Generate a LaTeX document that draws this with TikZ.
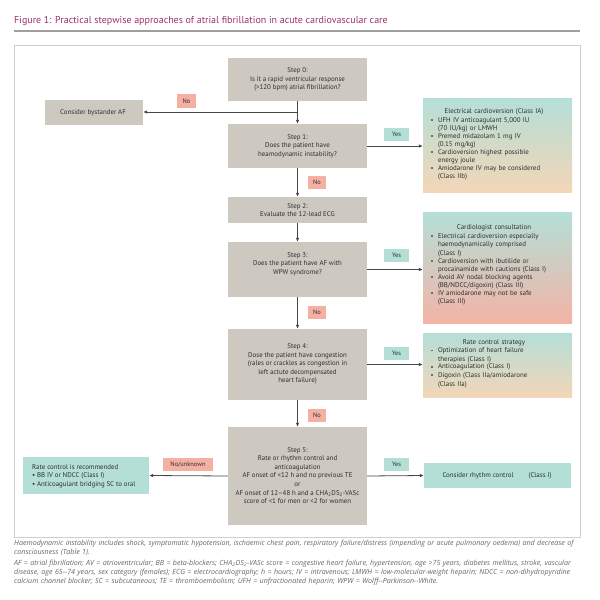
\documentclass[tikz,border=0pt]{standalone}
\usepackage{fontspec}
\setmainfont{PT Sans}
\newfontfamily\notefont{Open Sans}
\usetikzlibrary{arrows.meta}

\definecolor{stepgray}{HTML}{CDC9C1}
\definecolor{tealbox}{HTML}{B4DFD7}
\definecolor{peach}{HTML}{F3D6B8}
\definecolor{salmon}{HTML}{F2B4A6}
\definecolor{nored}{HTML}{F5AFA3}
\definecolor{titlecol}{HTML}{9C3072}
\definecolor{textcol}{HTML}{2E2E2E}
\definecolor{linecol}{HTML}{474747}
\definecolor{framecol}{HTML}{CFCFCF}
\definecolor{notecol}{HTML}{666666}

\newcommand{\sqbul}{\textcolor{textcol!70}{\rule[1.4pt]{1.7pt}{1.7pt}}}
\newcommand{\bitem}[1]{\par\noindent\makebox[7pt][l]{\sqbul}\parbox[t]{119pt}{\raggedright #1}}

\tikzset{
  stepbox/.style={shape=rectangle, fill=stepgray, draw=none, inner sep=0pt},
  boxtext/.style={align=center, text=textcol, inner sep=0pt, font=\fontsize{6.9}{8.6}\selectfont},
  listtext/.style={align=left, text=textcol, inner sep=0pt, text width=126pt, font=\fontsize{6.9}{8.6}\selectfont},
  yeslabel/.style={shape=rectangle, fill=tealbox, text=textcol, inner sep=0pt, font=\fontsize{6.4}{7}\selectfont},
  nolabel/.style={shape=rectangle, fill=nored, text=textcol, inner sep=0pt, font=\fontsize{6.4}{7}\selectfont},
  wire/.style={draw=linecol, line width=0.8pt},
  arrowwire/.style={wire, -{Latex[length=4pt, width=3.6pt]}},
}

\begin{document}
\begin{tikzpicture}[x=1pt, y=-1pt]
		\useasboundingbox (0, 0) rectangle (600, 600);
		% Title and frame:
		\node[anchor=west, inner sep=0pt, text=titlecol, font=\fontsize{10}{11}\selectfont] (title) at (14, 21){Figure 1: Practical stepwise approaches of atrial fibrillation in acute cardiovascular care};
		\draw[gray!75, line width=1.6pt] (14, 31) -- (580, 31);
		\draw[framecol, line width=0.8pt] (14, 45) rectangle (580, 537);
		% Steps:
		\node[stepbox, minimum width=139pt, minimum height=43pt] (s0) at (297.5, 79.5){} node[boxtext] (s0t) at (297.5, 79.5){Step 0:\\Is it a rapid ventricular response\\(>120 bpm) atrial fibrillation?};
		\node[stepbox, minimum width=139pt, minimum height=44pt] (s1) at (297.5, 146){} node[boxtext] (s1t) at (297.5, 146){Step 1:\\Does the patient have\\heamodynamic instability?};
		\node[stepbox, minimum width=139pt, minimum height=26pt] (s2) at (297.5, 210){} node[boxtext] (s2t) at (297.5, 210){Step 2:\\Evaluate the 12-lead ECG};
		\node[stepbox, minimum width=139pt, minimum height=55pt] (s3) at (297.5, 269.5){} node[boxtext] (s3t) at (297.5, 264){Step 3:\\Does the patient have AF with\\WPW syndrome?};
		\node[stepbox, minimum width=139pt, minimum height=71pt] (s4) at (297.5, 364.5){} node[boxtext] (s4t) at (297.5, 364){Step 4:\\Dose the patient have congestion\\(rales or crackles as congestion in\\left actute decompensated\\heart failure)};
		\node[stepbox, minimum width=139pt, minimum height=98pt] (s5) at (297.5, 476){} node[boxtext] (s5t) at (297.5, 475.5){Step 5:\\Rate or rhythm control and\\anticoagulation\\AF onset of <12 h and no previous TE\\or\\AF onset of 12--48 h and a CHA\textsubscript{2}DS\textsubscript{2}-VASc\\score of <1 for men or <2 for women};
		% Side boxes:
		\node[stepbox, minimum width=98pt, minimum height=25pt] (bystander) at (94, 112.5){} node[boxtext] (bystandert) at (93, 112.5){Consider bystander AF};
		\node[shape=rectangle, top color=tealbox, bottom color=peach, minimum width=149pt, minimum height=94pt] (card1) at (497.5, 145){} node[listtext] (card1t) at (494, 144.5){{\centering Electrical cardioversion (Class IA)\par}\bitem{UFH IV anticoagulant 5,000 IU\\(70 IU/kg) or LMWH}\bitem{Premed midazolam 1 mg IV\\(0.15 mg/kg)}\bitem{Cardioversion highest possible\\energy joule}\bitem{Amiodarone IV may be considered\\(Class IIb)}};
		\node[shape=rectangle, top color=tealbox, bottom color=salmon, minimum width=149pt, minimum height=111pt] (card2) at (497.5, 267.5){} node[listtext] (card2t) at (494, 265){{\centering Cardiologist consultation\par}\bitem{Electrical cardioversion especially\\haemodynamically comprised\\(Class I)}\bitem{Cardioversion with ibutilide or\\procainamide with cautions (Class I)}\bitem{Avoid AV nodal blocking agents\\(BB/NDCC/digoxin) (Class III)}\bitem{IV amiodarone may not be safe\\(Class III)}};
		\node[shape=rectangle, top color=tealbox, bottom color=peach, minimum width=149pt, minimum height=64pt] (card3) at (497.5, 365){} node[listtext] (card3t) at (494, 363.5){{\centering Rate control strategy\par}\bitem{Optimization of heart failure\\therapies (Class I)}\bitem{Anticoagulation (Class I)}\bitem{Digoxin (Class IIa/amiodarone\\(Class IIa)}};
		\node[shape=rectangle, fill=tealbox, minimum width=147pt, minimum height=25pt] (rhythm) at (497.5, 475.5){} node[boxtext] (rhythmt) at (497, 475.5){Consider rhythm control\hspace{15pt}(Class I)};
		\node[shape=rectangle, fill=tealbox, minimum width=126pt, minimum height=37pt] (ratebox) at (86, 475.5){} node[boxtext, align=left, anchor=west] (ratet) at (32, 476){Rate control is recommended\\\textbullet{} BB IV or NDCC (Class I)\\\textbullet{} Anticoagulant bridging SC to oral};
		% Wires:
		\coordinate (b0) at (297.5, 112);
		\draw[arrowwire] (s0) -- (s1);
		\draw[arrowwire] (b0) -- (bystander.east |- b0);
		\draw[arrowwire] (s1.east) -- (s1.east -| card1.west);
		\draw[arrowwire] (s1) -- (s2);
		\draw[arrowwire] (s2) -- (s3);
		\draw[arrowwire] (s3.east) -- (s3.east -| card2.west);
		\draw[arrowwire] (s3) -- (s4);
		\draw[arrowwire] (s4.east) -- (s4.east -| card3.west);
		\draw[arrowwire] (s4) -- (s5);
		\draw[arrowwire] (s5.east) -- (rhythm.west);
		\draw[arrowwire] (s5.west) -- (ratebox.east);
		% Labels:
		\node[nolabel, minimum width=19pt, minimum height=14pt] (no0) at (186.5, 101){No};
		\node[yeslabel, minimum width=25pt, minimum height=13pt] (yes1) at (396.5, 134.5){Yes};
		\node[nolabel, minimum width=18pt, minimum height=13pt] (no1) at (317, 182.5){No};
		\node[yeslabel, minimum width=25pt, minimum height=13pt] (yes3) at (396.5, 255.5){Yes};
		\node[nolabel, minimum width=18pt, minimum height=13pt] (no3) at (317, 312.5){No};
		\node[yeslabel, minimum width=25pt, minimum height=13pt] (yes4) at (396.5, 353.5){Yes};
		\node[nolabel, minimum width=18pt, minimum height=13pt] (no4) at (317, 415){No};
		\node[yeslabel, minimum width=25pt, minimum height=13pt] (yes5) at (396.5, 464){Yes};
		\node[nolabel, minimum width=50pt, minimum height=13pt] (no5) at (188, 464.5){No/unknown};
		% Notes:
		\node[anchor=north west, align=left, inner sep=0pt, text width=570pt, text=notecol, font=\notefont\fontsize{7.1}{9}\selectfont\itshape] (notes) at (14, 540){Haemodynamic instability includes shock, symptomatic hypotension, ischaemic chest pain, respiratory failure/distress (impending or acute pulmonary oedema) and decrease of\\consciousness (Table 1).\par\vspace{1.5pt}AF = atrial fibrillation; AV = atrioventricular; BB = beta-blockers; CHA\textsubscript{2}DS\textsubscript{2}-VASc score = congestive heart failure, hypertension, age >75 years, diabetes mellitus, stroke, vascular\\disease, age 65--74 years, sex category (females); ECG = electrocardiography; h = hours; IV = intravenous; LMWH = low-molecular-weight heparin; NDCC = non-dihydropyridine\\calcium channel blocker; SC = subcutaneous; TE = thromboembolism; UFH = unfractionated heparin; WPW = Wolff--Parkinson--White.};
	\end{tikzpicture}
\end{document}
